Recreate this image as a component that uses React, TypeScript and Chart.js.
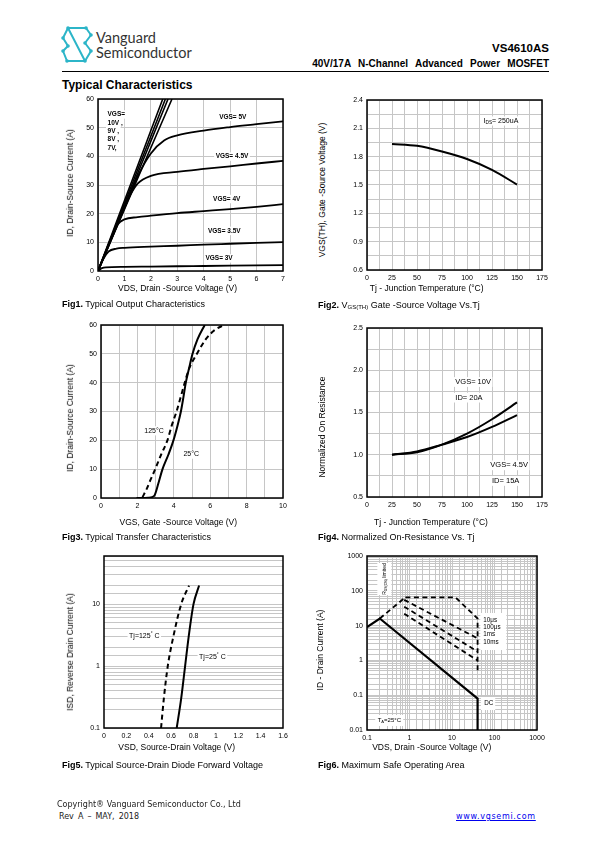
import React, { useEffect, useRef } from "react";
import { Chart, registerables } from "chart.js";

Chart.register(...registerables);

// ================= DATA =================
// Fig1 – Typical Output Characteristics (VDS [V] -> ID [A])
const fig1Vds10V = [0, 0.5, 1, 1.5, 2, 2.45];
const fig1Id10V = [0, 12.2, 24.5, 36.7, 49, 60];
const fig1Vds9V = [0, 0.5, 1, 1.5, 2, 2.55];
const fig1Id9V = [0, 11.8, 23.5, 35.3, 47, 60];
const fig1Vds8V = [0, 0.5, 1, 1.5, 2, 2.65];
const fig1Id8V = [0, 11.3, 22.6, 34, 45.3, 60];
const fig1Vds7V = [0, 0.5, 1, 1.5, 2, 2.8];
const fig1Id7V = [0, 10.8, 21.5, 32.3, 43, 60];
const fig1Vds5V = [0, 0.5, 1, 1.5, 2, 2.5, 3, 4, 5, 6, 7];
const fig1Id5V = [0, 11, 22, 33, 41, 45.5, 47.3, 49, 50.2, 51.2, 52.2];
const fig1Vds45V = [0, 0.5, 1, 1.25, 1.5, 2, 3, 4, 5, 6, 7];
const fig1Id45V = [0, 11, 22, 27, 30.5, 33.2, 34.6, 35.6, 36.5, 37.5, 38.4];
const fig1Vds4V = [0, 0.25, 0.5, 0.75, 1, 1.5, 2, 3, 4, 5, 6, 7];
const fig1Id4V = [0, 5.8, 11.5, 16.3, 18, 18.8, 19.3, 20.2, 20.9, 21.6, 22.4, 23.3];
const fig1Vds35V = [0, 0.2, 0.4, 0.7, 1, 2, 3, 4, 5, 6, 7];
const fig1Id35V = [0, 4.2, 6.8, 7.8, 8.1, 8.5, 8.8, 9.2, 9.5, 9.8, 10.1];
const fig1Vds3V = [0, 0.15, 0.3, 1, 2, 3, 4, 5, 6, 7];
const fig1Id3V = [0, 1, 1.3, 1.45, 1.55, 1.65, 1.75, 1.85, 1.95, 2.05];
const fig1XLabels = ["0", "1", "2", "3", "4", "5", "6", "7"];
const fig1YLabels = ["0", "10", "20", "30", "40", "50", "60"];

// Fig2 – VGS(TH) vs Tj
const fig2Tj = [25, 50, 75, 100, 125, 150];
const fig2Vth = [1.935, 1.915, 1.855, 1.775, 1.66, 1.505];
const fig2XLabels = ["0", "25", "50", "75", "100", "125", "150", "175"];
const fig2YLabels = ["0.6", "0.9", "1.2", "1.5", "1.8", "2.1", "2.4"];

// Fig3 – Transfer characteristics (VGS [V] -> ID [A])
const fig3Vgs25 = [1.95, 2.6, 2.8, 2.95, 3.15, 3.38, 3.7, 3.98, 4.2, 4.39, 4.53, 4.66, 4.84, 5.03, 5.3, 5.7];
const fig3Id25 = [0, 0.1, 0.3, 1, 5, 10, 15, 20, 25, 30, 35, 40, 45, 50, 55, 60];
const fig3Vgs125 = [2.28, 2.5, 2.7, 2.98, 3.3, 3.65, 3.88, 4.15, 4.38, 4.6, 4.85, 5.27, 5.75, 6.2, 6.75];
const fig3Id125 = [0.3, 3, 6, 10, 15, 20, 25, 30, 35, 40, 45, 50, 55, 58, 60];
const fig3XLabels = ["0", "2", "4", "6", "8", "10"];
const fig3YLabels = ["0", "10", "20", "30", "40", "50", "60"];

// Fig4 – Normalized on-resistance vs Tj
const fig4Tj = [25, 50, 75, 100, 125, 150];
const fig4RUpper = [1.0, 1.03, 1.12, 1.25, 1.42, 1.62];
const fig4RLower = [1.0, 1.04, 1.12, 1.21, 1.33, 1.47];
const fig4XLabels = ["0", "25", "50", "75", "100", "125", "150", "175"];
const fig4YLabels = ["0.5", "1.0", "1.5", "2.0", "2.5"];

// Fig5 – Source-drain diode forward voltage (VSD [V] -> ISD [A])
const fig5Vsd25 = [0.65, 0.69, 0.725, 0.757, 0.8, 0.85];
const fig5Isd25 = [0.1, 0.3, 1, 3, 10, 20];
const fig5Vsd125 = [0.51, 0.535, 0.57, 0.62, 0.69, 0.76];
const fig5Isd125 = [0.1, 0.3, 1, 3, 10, 20];
const fig5XLabels = ["0", "0.2", "0.4", "0.6", "0.8", "1", "1.2", "1.4", "1.6"];
const fig5YLabels = ["0.1", "1", "10"];

// Fig6 – Safe operating area (VDS [V] -> ID [A])
const fig6DcVds = [0.1, 0.2, 40, 40];
const fig6DcId = [9, 16, 0.08, 0.01];
const fig6RdsVds = [0.2, 0.8];
const fig6RdsId = [16, 65];
const fig6P10usVds = [0.8, 12, 40, 40];
const fig6P10usId = [65, 65, 16, 0.5];
const fig6P100usVds = [0.75, 40];
const fig6P100usId = [55, 4.3];
const fig6P1msVds = [0.75, 40];
const fig6P1msId = [35, 1.8];
const fig6P10msVds = [0.75, 40];
const fig6P10msId = [22, 1.0];
const fig6XLabels = ["0.1", "1", "10", "100", "1000"];
const fig6YLabels = ["0.01", "0.1", "1", "10", "100", "1000"];

// ================= STYLE =================
const NARROW = "'Liberation Sans Narrow','Arial Narrow','Liberation Sans',Arial,sans-serif";
const SANS = "'Liberation Sans',Arial,Helvetica,sans-serif";
const GRID = "#c6c6c6";
const YW = 40;
const PT = 8;
const PR = 14;
const XH = 18;

Chart.defaults.color = "#000";
Chart.defaults.font.family = NARROW;

type Seg = { t: string; sub?: boolean; sup?: boolean };
type Note = {
  x: number;
  y: number;
  segs: Seg[];
  size: number;
  bold?: boolean;
  align?: "left" | "center";
  rotate?: boolean;
  bg?: boolean;
};
type Box = { x1: number; y1: number; x2: number; y2: number };
type Rect = { l: number; t: number; r: number; b: number };
type AxisSpec = {
  type: "linear" | "logarithmic";
  min: number;
  max: number;
  step?: number;
  labels: string[];
  fmt: (v: number) => string;
  grid: boolean;
};

const fmtNum = (v: number) => String(Number(v.toPrecision(6)));
const fmtFix1 = (v: number) => v.toFixed(1);

function segFont(n: Note, s: Seg) {
  const size = s.sub || s.sup ? n.size * 0.68 : n.size;
  return `${n.bold ? "bold " : ""}${size}px ${NARROW}`;
}
function measure(ctx: CanvasRenderingContext2D, n: Note) {
  let w = 0;
  for (const s of n.segs) {
    ctx.font = segFont(n, s);
    w += ctx.measureText(s.t).width;
  }
  return w;
}

function notesPlugin(notes: Note[], boxes: Box[]) {
  return {
    id: "notes",
    beforeDatasetsDraw(chart: any) {
      const ctx: CanvasRenderingContext2D = chart.ctx;
      const xs = chart.scales.x;
      const ys = chart.scales.y;
      ctx.save();
      ctx.fillStyle = "#fff";
      for (const b of boxes) {
        const x1 = xs.getPixelForValue(b.x1);
        const x2 = xs.getPixelForValue(b.x2);
        const y1 = ys.getPixelForValue(b.y1);
        const y2 = ys.getPixelForValue(b.y2);
        ctx.fillRect(Math.min(x1, x2), Math.min(y1, y2), Math.abs(x2 - x1), Math.abs(y2 - y1));
      }
      for (const n of notes) {
        if (!n.bg) continue;
        const w = measure(ctx, n);
        const px = xs.getPixelForValue(n.x);
        const py = ys.getPixelForValue(n.y);
        const left = n.align === "center" ? px - w / 2 : px;
        ctx.fillStyle = "#fff";
        ctx.fillRect(left - 1.5, py - n.size * 0.65, w + 3, n.size * 1.3);
      }
      ctx.restore();
    },
    afterDatasetsDraw(chart: any) {
      const ctx: CanvasRenderingContext2D = chart.ctx;
      const xs = chart.scales.x;
      const ys = chart.scales.y;
      for (const n of notes) {
        const px = xs.getPixelForValue(n.x);
        const py = ys.getPixelForValue(n.y);
        ctx.save();
        ctx.translate(px, py);
        if (n.rotate) ctx.rotate(-Math.PI / 2);
        const w = measure(ctx, n);
        let cx = n.align === "center" || n.rotate ? -w / 2 : 0;
        ctx.textBaseline = "middle";
        ctx.textAlign = "left";
        ctx.fillStyle = "#000";
        for (const s of n.segs) {
          ctx.font = segFont(n, s);
          const dy = s.sub ? n.size * 0.28 : s.sup ? -n.size * 0.32 : 0;
          ctx.fillText(s.t, cx, dy);
          cx += ctx.measureText(s.t).width;
        }
        ctx.restore();
      }
    },
  };
}

const framePlugin = {
  id: "frame",
  afterDraw(chart: any) {
    const { ctx, chartArea: a } = chart;
    ctx.save();
    ctx.strokeStyle = "#000";
    ctx.lineWidth = 1.5;
    ctx.strokeRect(a.left, a.top, a.right - a.left, a.bottom - a.top);
    ctx.restore();
  },
};

function scaleOpts(a: AxisSpec, horizontal: boolean) {
  return {
    type: a.type,
    min: a.min,
    max: a.max,
    ticks: {
      stepSize: a.step,
      autoSkip: false,
      maxRotation: 0,
      minRotation: 0,
      padding: 4,
      color: "#000",
      font: { family: NARROW, size: 7 },
      callback: (v: any) => {
        const s = a.fmt(Number(v));
        return a.labels.includes(s) ? s : "";
      },
    },
    grid: { display: a.grid, color: GRID, lineWidth: 1, drawTicks: false },
    border: { display: false },
    afterFit: (s: any) => {
      if (horizontal) s.height = XH;
      else s.width = YW;
      s.paddingLeft = 0;
      s.paddingRight = 0;
      s.paddingTop = 0;
      s.paddingBottom = 0;
    },
  };
}

function line(xs: number[], ys: number[], o: { dash?: boolean; width?: number; straight?: boolean } = {}) {
  return {
    data: xs.map((x, i) => ({ x, y: ys[i] })),
    borderColor: "#000",
    borderWidth: o.width ?? 1.8,
    borderDash: o.dash ? [5, 3.5] : [],
    pointRadius: 0,
    fill: false,
    tension: o.straight ? 0 : 0.4,
    cubicInterpolationMode: o.straight ? "default" : "monotone",
  };
}

function Fig(props: { plot: Rect; x: AxisSpec; y: AxisSpec; datasets: any[]; notes: Note[]; boxes?: Box[] }) {
  const ref = useRef<HTMLCanvasElement>(null);
  const { plot } = props;
  const W = plot.r - plot.l + YW + PR;
  const H = plot.b - plot.t + PT + XH;
  useEffect(() => {
    const chart = new Chart(ref.current as HTMLCanvasElement, {
      type: "line",
      data: { datasets: props.datasets },
      options: {
        responsive: false,
        animation: false,
        devicePixelRatio: 1,
        events: [],
        layout: { padding: { left: 0, top: PT, right: PR, bottom: 0 } },
        plugins: { legend: { display: false }, tooltip: { enabled: false } },
        scales: { x: scaleOpts(props.x, true), y: scaleOpts(props.y, false) },
      } as any,
      plugins: [notesPlugin(props.notes, props.boxes || []), framePlugin],
    });
    return () => chart.destroy();
  }, []);
  return (
    <canvas
      ref={ref}
      width={W}
      height={H}
      style={{ position: "absolute", left: plot.l - YW, top: plot.t - PT, width: W, height: H }}
    />
  );
}

function Txt(p: {
  x: number;
  y: number;
  size: number;
  bold?: boolean;
  family?: string;
  align?: "left" | "center" | "right";
  color?: string;
  rotate?: boolean;
  style?: React.CSSProperties;
  children: React.ReactNode;
}) {
  const base: React.CSSProperties = {
    position: "absolute",
    whiteSpace: "nowrap",
    fontSize: p.size,
    lineHeight: `${p.size * 1.2}px`,
    fontWeight: p.bold ? "bold" : "normal",
    fontFamily: p.family || SANS,
    color: p.color || "#000",
    ...p.style,
  };
  if (p.rotate)
    return <div style={{ ...base, left: p.x, top: p.y, transform: "translate(-50%,-50%) rotate(-90deg)" }}>{p.children}</div>;
  const top = p.y - p.size * 0.6;
  if (p.align === "center")
    return <div style={{ ...base, left: p.x, top, transform: "translateX(-50%)" }}>{p.children}</div>;
  if (p.align === "right") return <div style={{ ...base, right: 595 - p.x, top }}>{p.children}</div>;
  return <div style={{ ...base, left: p.x, top }}>{p.children}</div>;
}

const S = (t: string): Seg => ({ t });
const sub = (t: string): Seg => ({ t, sub: true });
const sup = (t: string): Seg => ({ t, sup: true });

// ================= FIGURES =================
const P1: Rect = { l: 98, t: 99, r: 283, b: 271 };
const P2: Rect = { l: 367, t: 100, r: 542, b: 270 };
const P3: Rect = { l: 101, t: 325, r: 283, b: 498 };
const P4: Rect = { l: 367, t: 328, r: 542, b: 497 };
const P5: Rect = { l: 104, t: 556, r: 283, b: 728 };
const P6: Rect = { l: 367, t: 556, r: 537, b: 730 };

function Fig1() {
  const n = (x: number, y: number, t: string, align: "left" | "center" = "center"): Note => ({
    x, y, segs: [S(t)], size: 6.5, bold: true, align, bg: true,
  });
  return (
    <Fig
      plot={P1}
      x={{ type: "linear", min: 0, max: 7, step: 1, labels: fig1XLabels, fmt: fmtNum, grid: true }}
      y={{ type: "linear", min: 0, max: 60, step: 10, labels: fig1YLabels, fmt: fmtNum, grid: true }}
      datasets={[
        line(fig1Vds10V, fig1Id10V, { width: 1.6 }),
        line(fig1Vds9V, fig1Id9V, { width: 1.6 }),
        line(fig1Vds8V, fig1Id8V, { width: 1.6 }),
        line(fig1Vds7V, fig1Id7V, { width: 1.6 }),
        line(fig1Vds5V, fig1Id5V),
        line(fig1Vds45V, fig1Id45V),
        line(fig1Vds4V, fig1Id4V),
        line(fig1Vds35V, fig1Id35V),
        line(fig1Vds3V, fig1Id3V),
      ]}
      notes={[
        n(5.1, 53.8, "VGS= 5V"),
        n(5.07, 39.9, "VGS= 4.5V"),
        n(4.87, 25.1, "VGS= 4V"),
        n(4.78, 14, "VGS= 3.5V"),
        n(4.58, 4.4, "VGS= 3V"),
        n(0.36, 54.6, "VGS=", "left"),
        n(0.36, 51.7, "10V ,", "left"),
        n(0.36, 48.8, "9V ,", "left"),
        n(0.36, 45.9, "8V ,", "left"),
        n(0.36, 43, "7V,", "left"),
      ]}
    />
  );
}

function Fig2() {
  return (
    <Fig
      plot={P2}
      x={{ type: "linear", min: 0, max: 175, step: 12.5, labels: fig2XLabels, fmt: fmtNum, grid: true }}
      y={{ type: "linear", min: 0.6, max: 2.4, step: 0.15, labels: fig2YLabels, fmt: fmtFix1, grid: true }}
      datasets={[line(fig2Tj, fig2Vth, { width: 2 })]}
      notes={[{ x: 116.5, y: 2.178, segs: [S("I"), sub("DS"), S("= 250uA")], size: 7, bg: true }]}
    />
  );
}

function Fig3() {
  return (
    <Fig
      plot={P3}
      x={{ type: "linear", min: 0, max: 10, step: 1, labels: fig3XLabels, fmt: fmtNum, grid: true }}
      y={{ type: "linear", min: 0, max: 60, step: 10, labels: fig3YLabels, fmt: fmtNum, grid: true }}
      datasets={[line(fig3Vgs25, fig3Id25, { width: 2 }), line(fig3Vgs125, fig3Id125, { width: 2, dash: true })]}
      notes={[
        { x: 2.38, y: 23.3, segs: [S("125°C")], size: 7, bg: true },
        { x: 4.53, y: 15.2, segs: [S("25°C")], size: 7, bg: true },
      ]}
    />
  );
}

function Fig4() {
  const n = (x: number, y: number, t: string): Note => ({ x, y, segs: [S(t)], size: 7.5, bg: true });
  return (
    <Fig
      plot={P4}
      x={{ type: "linear", min: 0, max: 175, step: 12.5, labels: fig4XLabels, fmt: fmtNum, grid: true }}
      y={{ type: "linear", min: 0.5, max: 2.5, step: 0.25, labels: fig4YLabels, fmt: fmtFix1, grid: true }}
      datasets={[line(fig4Tj, fig4RUpper, { width: 2 }), line(fig4Tj, fig4RLower, { width: 2 })]}
      notes={[n(88.3, 1.861, "VGS= 10V"), n(88.3, 1.676, "ID= 20A"), n(123.3, 0.875, "VGS= 4.5V"), n(125, 0.69, "ID= 15A")]}
    />
  );
}

function Fig5() {
  return (
    <Fig
      plot={P5}
      x={{ type: "linear", min: 0, max: 1.6, step: 0.2, labels: fig5XLabels, fmt: fmtNum, grid: false }}
      y={{ type: "logarithmic", min: 0.1, max: 60, labels: fig5YLabels, fmt: fmtNum, grid: true }}
      datasets={[line(fig5Vsd25, fig5Isd25, { width: 2 }), line(fig5Vsd125, fig5Isd125, { width: 2, dash: true })]}
      notes={[
        { x: 0.224, y: 3.05, segs: [S("Tj=125"), sup("°"), S(" C")], size: 7, bg: true },
        { x: 0.85, y: 1.4, segs: [S("Tj=25"), sup("°"), S(" C")], size: 7, bg: true },
      ]}
    />
  );
}

function Fig6() {
  const n = (x: number, y: number, t: string): Note => ({ x, y, segs: [S(t)], size: 6.3 });
  return (
    <Fig
      plot={P6}
      x={{ type: "logarithmic", min: 0.1, max: 1000, labels: fig6XLabels, fmt: fmtNum, grid: true }}
      y={{ type: "logarithmic", min: 0.01, max: 1000, labels: fig6YLabels, fmt: fmtNum, grid: true }}
      datasets={[
        line(fig6DcVds, fig6DcId, { width: 2.2, straight: true }),
        line(fig6RdsVds, fig6RdsId, { width: 1.8, dash: true, straight: true }),
        line(fig6P10usVds, fig6P10usId, { width: 1.8, dash: true, straight: true }),
        line(fig6P100usVds, fig6P100usId, { width: 1.8, dash: true, straight: true }),
        line(fig6P1msVds, fig6P1msId, { width: 1.8, dash: true, straight: true }),
        line(fig6P10msVds, fig6P10msId, { width: 1.8, dash: true, straight: true }),
      ]}
      boxes={[
        { x1: 46.3, y1: 23, x2: 190, y2: 1.99 },
        { x1: 0.175, y1: 629, x2: 0.373, y2: 75.7 },
        { x1: 48, y1: 0.0887, x2: 104, y2: 0.0376 },
        { x1: 0.156, y1: 0.027, x2: 0.714, y2: 0.013 },
      ]}
      notes={[
        n(54.5, 14.5, "10μs"),
        n(54.5, 9.2, "100μs"),
        n(54.5, 5.5, "1ms"),
        n(54.5, 3.4, "10ms"),
        n(57.5, 0.058, "DC"),
        { x: 0.335, y: 0.01875, segs: [S("T"), sub("A"), S("=25°C")], size: 6, align: "center" },
        { x: 0.255, y: 218, segs: [S("R"), sub("DS(ON)"), S(" limited")], size: 5, rotate: true },
      ]}
    />
  );
}

function Logo() {
  const dots: [number, number][] = [
    [8, 3], [26, 3], [31, 10], [3, 13], [8, 21], [3, 26], [7, 36], [25, 36], [31, 26], [25, 18],
  ];
  return (
    <svg style={{ position: "absolute", left: 60, top: 25 }} width={34} height={39} viewBox="0 0 34 39">
      <g stroke="#2cb5c8" strokeWidth={2} fill="none" strokeLinejoin="round" strokeLinecap="round">
        <polyline points="31,10 26,3 8,3 3,13 8,21" />
        <polyline points="3,26 7,36 25,36 31,26 25,18" />
        <line x1={8} y1={3} x2={25} y2={36} />
        <line x1={8} y1={21} x2={3} y2={26} />
        <line x1={31} y1={10} x2={25} y2={18} />
      </g>
      {dots.map(([x, y], i) => (
        <circle key={i} cx={x} cy={y} r={1.8} fill="#2cb5c8" />
      ))}
    </svg>
  );
}

export default function App() {
  const cap = 9;
  const ttl = 8.5;
  const capL = 62;
  const capR = 318;
  return (
    <div
      style={{
        position: "absolute",
        left: 0,
        top: 0,
        width: 595,
        height: 842,
        background: "#fff",
        overflow: "hidden",
        fontFamily: SANS,
      }}
    >
      {/* Header */}
      <Logo />
      <Txt x={96} y={38} size={14.5} family="Lato, 'Open Sans', sans-serif" color="#333">Vanguard</Txt>
      <Txt x={96} y={53} size={14.5} family="Lato, 'Open Sans', sans-serif" color="#333">Semiconductor</Txt>
      <Txt x={549} y={48.5} size={11.5} bold align="right">VS4610AS</Txt>
      <Txt x={549} y={63.5} size={10} bold align="right" style={{ wordSpacing: 4.5 }}>
        40V/17A N-Channel Advanced Power MOSFET
      </Txt>
      <div style={{ position: "absolute", left: 62, top: 70.5, width: 487, height: 1.3, background: "#000" }} />
      <Txt x={62} y={85} size={12} bold>Typical Characteristics</Txt>

      {/* Fig1 */}
      <Fig1 />
      <Txt x={70} y={183} size={ttl} rotate>ID, Drain-Source Current (A)</Txt>
      <Txt x={177.5} y={288} size={ttl} align="center">VDS, Drain -Source Voltage (V)</Txt>
      <Txt x={capL} y={304.5} size={cap}><b>Fig1.</b> Typical Output Characteristics</Txt>

      {/* Fig2 */}
      <Fig2 />
      <Txt x={322} y={190} size={ttl} rotate>VGS(TH), Gate -Source Voltage (V)</Txt>
      <Txt x={426.7} y={288.5} size={ttl} align="center">Tj - Junction Temperature (°C)</Txt>
      <Txt x={capR} y={305} size={cap}>
        <b>Fig2.</b> V<span style={{ fontSize: 6, position: "relative", top: 1.5 }}>GS(TH)</span> Gate -Source Voltage Vs.Tj
      </Txt>

      {/* Fig3 */}
      <Fig3 />
      <Txt x={70} y={418.3} size={ttl} rotate>ID, Drain-Source Current (A)</Txt>
      <Txt x={178.3} y={522.3} size={ttl} align="center">VGS, Gate -Source Voltage (V)</Txt>
      <Txt x={capL} y={537} size={cap}><b>Fig3.</b> Typical Transfer Characteristics</Txt>

      {/* Fig4 */}
      <Fig4 />
      <Txt x={322} y={426.7} size={ttl} rotate>Normalized On Resistance</Txt>
      <Txt x={431} y={522} size={ttl} align="center">Tj - Junction Temperature (°C)</Txt>
      <Txt x={capR} y={537} size={cap}><b>Fig4.</b> Normalized On-Resistance Vs. Tj</Txt>

      {/* Fig5 */}
      <Fig5 />
      <Txt x={70} y={651.7} size={ttl} rotate>ISD, Reverse Drain Current (A)</Txt>
      <Txt x={176.7} y={747.5} size={ttl} align="center">VSD, Source-Drain Voltage (V)</Txt>
      <Txt x={capL} y={765.5} size={cap}><b>Fig5.</b> Typical Source-Drain Diode Forward Voltage</Txt>

      {/* Fig6 */}
      <Fig6 />
      <Txt x={320} y={650} size={ttl} rotate>ID - Drain Current (A)</Txt>
      <Txt x={431.7} y={747.5} size={ttl} align="center">VDS, Drain -Source Voltage (V)</Txt>
      <Txt x={capR} y={765.5} size={cap}><b>Fig6.</b> Maximum Safe Operating Area</Txt>

      {/* Footer */}
      <Txt x={57} y={804.5} size={8} family="'DejaVu Sans',sans-serif" color="#222">
        Copyright® Vanguard Semiconductor Co., Ltd
      </Txt>
      <Txt x={59} y={816.5} size={8} family="'DejaVu Sans',sans-serif" color="#222" style={{ wordSpacing: 1.5 }}>
        Rev A – MAY, 2018
      </Txt>
      <Txt
        x={456}
        y={816.5}
        size={8}
        family="'DejaVu Sans',sans-serif"
        color="#0000ee"
        style={{ textDecoration: "underline", letterSpacing: 0.7 }}
      >
        www.vgsemi.com
      </Txt>
    </div>
  );
}
